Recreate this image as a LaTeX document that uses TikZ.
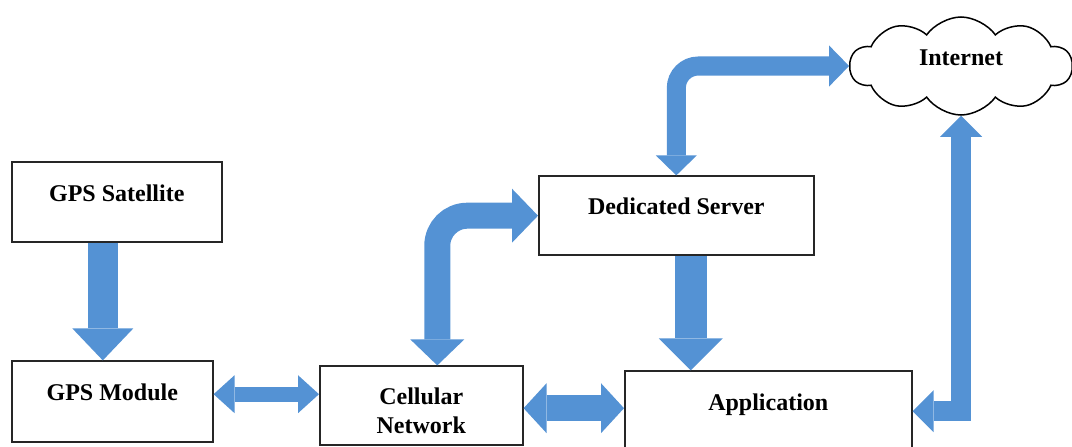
\documentclass[tikz,border=0pt]{standalone}
\usepackage{fontspec}
\setmainfont{Liberation Serif}
\usetikzlibrary{arrows.meta,shapes.symbols,positioning}
\definecolor{arrowblue}{RGB}{84,146,212}

\begin{document}
\begin{tikzpicture}[x=1pt,y=-1pt,font=\fontsize{24}{29}\selectfont\bfseries,
    box/.style={rectangle,draw=black!85,line width=1.6pt,fill=white},
    lift/.style={text height=17pt,text depth=19pt},
    oneway/.style n args={3}{draw=arrowblue,line width=#1,-{Triangle[length=#2,width=#3,line width=0pt]}},
    twoway/.style n args={3}{draw=arrowblue,line width=#1,{Triangle[length=#2,width=#3,line width=0pt]}-{Triangle[length=#2,width=#3,line width=0pt]}}]
      \useasboundingbox (0,0) rectangle (1072,447);
      \clip (0,0) rectangle (1072,447);

      % blocks
      \node[box,lift,minimum width=210pt,minimum height=80pt,above right] (sat) at (11,243) {GPS Satellite};
      \node[box,lift,minimum width=201pt,minimum height=81pt,above right] (module) at (11,443) {GPS Module};
      \node[box,align=center,minimum width=203pt,minimum height=79pt,above right] (cell) at (319,446) {\rule{0pt}{27pt}Cellular\\Network};
      \node[box,lift,minimum width=275pt,minimum height=79pt,above right] (server) at (538,256) {Dedicated Server};
      \node[box,lift,minimum width=287pt,minimum height=80pt,above right] (app) at (624,452) {Application};
      \node[cloud,draw=black,line width=1.5pt,fill=white,cloud puffs=10,cloud puff arc=110,aspect=2.3,
            minimum width=222pt,minimum height=98pt,lift] (net) at (961,66) {Internet};

      % satellite -> module
      \draw[oneway={30pt}{32pt}{61pt}] ([xshift=-14pt]sat.south) -- ([xshift=-14pt]sat.south |- module.north);

      % bottom row
      \draw[twoway={15pt}{21pt}{38pt}] ([yshift=7.5pt]module.east) -- ([yshift=7.5pt]module.east -| cell.west);
      \draw[twoway={26pt}{23pt}{50pt}] ([yshift=-2.5pt]cell.east) -- ([yshift=-2.5pt]cell.east -| app.west);

      % cellular network <-> server
      \draw[twoway={26pt}{26pt}{54pt},rounded corners=30pt] ([xshift=16pt]cell.north) |- (server.west);

      % server <-> internet
      \draw[twoway={19pt}{20pt}{41pt},rounded corners=22pt] (server.north) |- (net.west);

      % server -> application
      \draw[oneway={32pt}{32pt}{64pt}] ([xshift=14.5pt]server.south) -- ([xshift=14.5pt]server.south |- app.north);

      % internet <-> application
      \draw[twoway={20pt}{21pt}{42pt}] (net.south) |- (app.east);

   \end{tikzpicture}
\end{document}
